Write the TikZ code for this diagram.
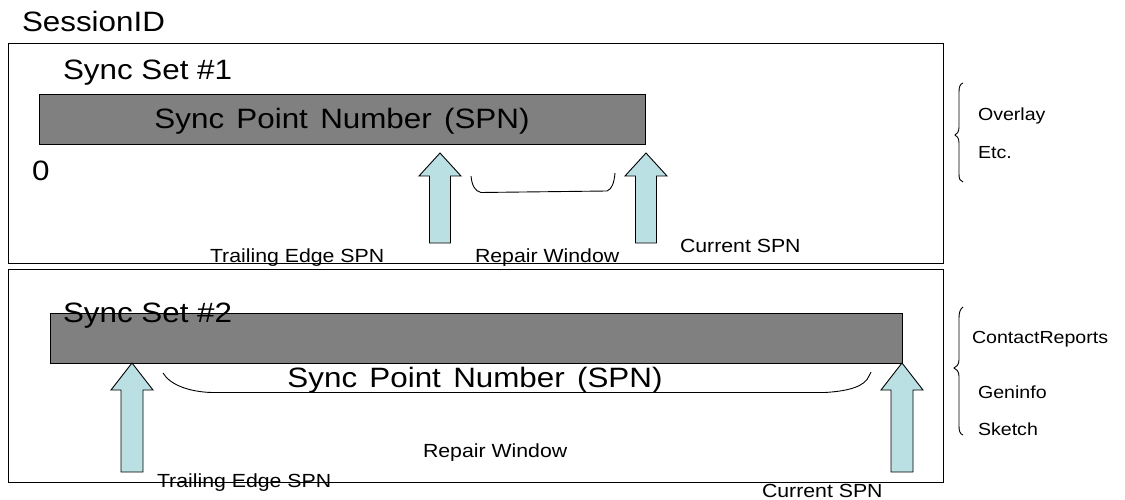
\documentclass[tikz,border=0pt]{standalone}
\usepackage{fontspec}
\usepackage{graphicx}
\setmainfont{Liberation Sans}

\definecolor{barfill}{RGB}{128,128,128}
\definecolor{arrowfill}{RGB}{187,224,227}

% slightly widened lettering
\newcommand\wide[1]{\scalebox{1.12}[1]{#1}}
% wide word gaps used in the bar captions
\newcommand\gap{\hspace{11pt}}

% upward block arrow: tip x, tip y, head base y, tail y, shaft half width, head half width
\newcommand\blockarrow[6]{%
  \draw[blk] (#1,#2) -- (#1+#6,#3) -- (#1+#5,#3) -- (#1+#5,#4)
    -- (#1-#5,#4) -- (#1-#5,#3) -- (#1-#6,#3) -- cycle;}

\tikzset{
  frame/.style={draw=black, line width=1pt},
  bar/.style={draw=black, fill=barfill, line width=0.9pt},
  blk/.style={draw=black, fill=arrowfill, line width=0.9pt, line join=miter},
  curve/.style={draw=black, line width=0.9pt},
  lbl/.style={inner sep=0pt, outer sep=0pt, anchor=base west},
  big/.style={lbl, font=\fontsize{28}{30}\selectfont},
  small/.style={lbl, font=\fontsize{19}{21}\selectfont},
  side/.style={lbl, font=\fontsize{17.5}{19}\selectfont},
}

\begin{document}
\begin{tikzpicture}[x=1pt, y=-1pt]
\useasboundingbox (0,0) rectangle (1125,500);

% session frames
\draw[frame] (8,44) rectangle (943,263);
\draw[frame] (8,269) rectangle (943,482);

% sync point number bars
\draw[bar] (39,94) rectangle (645,144);
\draw[bar] (50,313) rectangle (902,363);

\node[big] (session) at (22,32) {\wide{SessionID}};

% ---- sync set 1 ----
\node[big] (set1) at (63,80) {\wide{Sync Set \#1}};
\node[big, anchor=base] (spn1) at (342,129) {\wide{Sync\gap Point\gap Number\gap (SPN)}};
\node[big] (zero) at (32,181) {\wide{0}};

\blockarrow{440}{153}{176}{243}{10.5}{21}
\blockarrow{646}{153}{176}{243}{10.5}{21}

\draw[curve] (471,176) .. controls (472,186) and (475,191) .. (481,192.5)
  -- (607,191) .. controls (612,189) and (614,183) .. (615,173);

\node[small] (trail1) at (210,262) {\wide{Trailing Edge SPN}};
\node[small] (repair1) at (475,262) {\wide{Repair Window}};
\node[small] (cur1) at (680,252) {\wide{Current SPN}};

% ---- sync set 2 ----
\node[big] (set2) at (63,322) {\wide{Sync Set \#2}};
\node[big, anchor=base] (spn2) at (475,387) {\wide{Sync\gap Point\gap Number\gap (SPN)}};

\blockarrow{132}{363}{390}{472}{11}{21}
\blockarrow{902}{363}{390}{472}{11}{21}

\draw[curve] (163,373) .. controls (170,385) and (190,392) .. (212,392.5)
  -- (825,392.5) .. controls (850,391) and (865,386) .. (869,376) -- (871,372);

\node[small] (repair2) at (423,457) {\wide{Repair Window}};
\node[small] (trail2) at (157,487) {\wide{Trailing Edge SPN}};
\node[small] (cur2) at (762,497) {\wide{Current SPN}};

% ---- side braces ----
\draw[curve] (963,83) .. controls (960,84) and (959,87) .. (959,92)
  -- (959,127) .. controls (959,132) and (957,134) .. (955,135)
  .. controls (957,136) and (959,138) .. (959,143)
  -- (959,174) .. controls (959,179) and (960,181) .. (963,182);
\node[side] (overlay) at (978,121) {\wide{Overlay}};
\node[side] (etc) at (978,159) {\wide{Etc.}};

\draw[curve] (963,307) .. controls (960,309) and (959,313) .. (959,318)
  -- (959,360) .. controls (959,365) and (956,367) .. (954,368)
  .. controls (956,369) and (959,371) .. (959,376)
  -- (959,426) .. controls (959,431) and (960,434) .. (963,435);
\node[side] (contact) at (972,343) {\wide{ContactReports}};
\node[side] (geninfo) at (978,398) {\wide{Geninfo}};
\node[side] (sketch) at (978,435) {\wide{Sketch}};
\end{tikzpicture}
\end{document}
